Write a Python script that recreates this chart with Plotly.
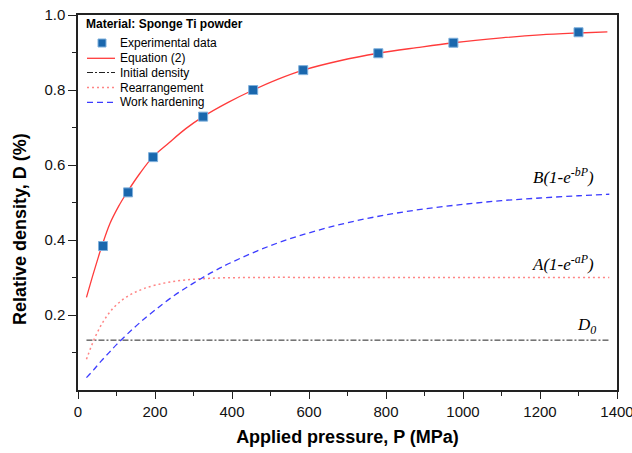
import plotly.graph_objects as go

# Measured compaction data for sponge Ti powder
pressure_exp = [65, 130, 195, 325, 455, 585, 780, 975, 1300]
density_exp = [0.384, 0.527, 0.621, 0.729, 0.800, 0.853, 0.898, 0.926, 0.954]

# Fitted total curve, Equation (2)
p_eq = [22, 40, 53, 62, 83, 105, 128, 161, 194, 235, 280, 325, 390, 455,
        520, 585, 680, 780, 880, 975, 1100, 1200, 1300, 1375]
d_eq = [0.247, 0.311, 0.355, 0.384, 0.444, 0.489, 0.528, 0.578, 0.621, 0.658,
        0.697, 0.729, 0.767, 0.800, 0.829, 0.853, 0.878, 0.898, 0.913, 0.926,
        0.939, 0.947, 0.952, 0.955]

# Initial density D0
p_d0 = [22, 1380]
d_d0 = [0.133, 0.133]

# Rearrangement term A(1-e^-aP)
p_rear = [22, 44, 66, 92, 126, 170, 239, 326, 450, 700, 1000, 1380]
d_rear = [0.082, 0.140, 0.183, 0.219, 0.248, 0.270, 0.288, 0.297, 0.300,
          0.300, 0.300, 0.300]

# Work hardening term B(1-e^-bP)
p_work = [22, 40, 60, 80, 100, 130, 160, 200, 250, 300, 350, 400, 500, 600,
          700, 800, 900, 1000, 1100, 1200, 1300, 1380]
d_work = [0.033, 0.053, 0.077, 0.099, 0.121, 0.151, 0.179, 0.213, 0.252,
          0.285, 0.315, 0.341, 0.385, 0.419, 0.446, 0.467, 0.483, 0.495,
          0.505, 0.512, 0.518, 0.522]

x_ticks = [0, 200, 400, 600, 800, 1000, 1200, 1400]
y_ticks = [0.2, 0.4, 0.6, 0.8, 1.0]
y_tick_text = ["0.2", "0.4", "0.6", "0.8", "1.0"]

legend_labels = ["Experimental data", "Equation (2)", "Initial density",
                 "Rearrangement", "Work hardening"]

RED = "#ff3b3b"
PINK = "#ff8585"
BLUE = "#3c3cff"
DARK = "#222222"
MARK = "#1a67ad"
SANS = "Arial, Liberation Sans, sans-serif"
SERIF = "Times New Roman, Liberation Serif, serif"

fig = go.Figure()

fig.add_trace(go.Scatter(x=p_d0, y=d_d0, mode="lines",
                         line=dict(color=DARK, width=1, dash="6px,2px,2px,2px"),
                         showlegend=False))
fig.add_trace(go.Scatter(x=p_rear, y=d_rear, mode="lines", line_shape="spline",
                         line=dict(color=PINK, width=1.5, dash="2px,3px"),
                         showlegend=False))
fig.add_trace(go.Scatter(x=p_work, y=d_work, mode="lines", line_shape="spline",
                         line=dict(color=BLUE, width=1.3, dash="6px,4px"),
                         showlegend=False))
fig.add_trace(go.Scatter(x=p_eq, y=d_eq, mode="lines", line_shape="spline",
                         line=dict(color=RED, width=1.3),
                         showlegend=False))
fig.add_trace(go.Scatter(x=pressure_exp, y=density_exp, mode="markers",
                         marker=dict(symbol="square", size=9, color=MARK,
                                     line=dict(color="#7fb0dc", width=1)),
                         showlegend=False))

# Plot area in pixels: left 78, right 617, top 15, bottom 390
def px_x(px):
    return (px - 78) / 539.0

def px_y(py):
    return (390 - py) / 375.0

annotations = []
shapes = []

# Legend block
annotations.append(dict(text="<b>Material: Sponge Ti powder</b>", x=px_x(84), y=px_y(24),
                        xref="paper", yref="paper", xanchor="left", yanchor="middle",
                        showarrow=False, font=dict(family=SANS, size=12, color="black")))
rows_y = [43, 58.3, 72.5, 87.5, 102.3]
for label, ry in zip(legend_labels, rows_y):
    annotations.append(dict(text=label, x=px_x(118), y=px_y(ry), xref="paper", yref="paper",
                            xanchor="left", yanchor="middle", showarrow=False,
                            font=dict(family=SANS, size=12, color="black")))
sample_styles = [
    None,
    dict(color=RED, width=1.3),
    dict(color=DARK, width=1, dash="6px,2px,2px,2px"),
    dict(color=PINK, width=1.5, dash="2px,3px"),
    dict(color=BLUE, width=1.3, dash="6px,4px"),
]
for style, ry in zip(sample_styles, rows_y):
    if style is None:
        shapes.append(dict(type="rect", xref="paper", yref="paper",
                           x0=px_x(98), x1=px_x(106), y0=px_y(47), y1=px_y(39),
                           fillcolor=MARK, line=dict(color="#7fb0dc", width=1)))
    else:
        shapes.append(dict(type="line", xref="paper", yref="paper",
                           x0=px_x(87), x1=px_x(115), y0=px_y(ry), y1=px_y(ry),
                           line=style))

# Term labels on the right
term_font = dict(family=SERIF, size=17, color="black")
annotations.append(dict(text="<i>B(1-e<sup>-bP</sup>)</i>", x=px_x(563), y=px_y(176),
                        xref="paper", yref="paper", xanchor="center", yanchor="middle",
                        showarrow=False, font=term_font))
annotations.append(dict(text="<i>A(1-e<sup>-aP</sup>)</i>", x=px_x(563), y=px_y(263),
                        xref="paper", yref="paper", xanchor="center", yanchor="middle",
                        showarrow=False, font=term_font))
annotations.append(dict(text="<i>D<sub>0</sub></i>", x=px_x(586), y=px_y(326),
                        xref="paper", yref="paper", xanchor="center", yanchor="middle",
                        showarrow=False, font=term_font))

# Y axis title
annotations.append(dict(text="<b>Relative density, D (%)</b>", x=px_x(20), y=px_y(229),
                        xref="paper", yref="paper", xanchor="center", yanchor="middle",
                        textangle=-90, showarrow=False,
                        font=dict(family=SANS, size=18, color="black")))

fig.update_layout(
    width=632, height=453,
    margin=dict(l=78, r=15, t=15, b=63, autoexpand=False),
    paper_bgcolor="white", plot_bgcolor="white",
    annotations=annotations, shapes=shapes,
    font=dict(family=SANS, color="black"),
)

fig.update_xaxes(
    range=[0, 1400], tickvals=x_ticks, ticks="outside", ticklen=7, tickwidth=1.2,
    tickcolor="#222", showline=True, linecolor="#222", linewidth=1.5, mirror=True,
    showgrid=False, zeroline=False, ticklabeloverflow="allow", automargin=False,
    tickfont=dict(family=SANS, size=15, color="#111"),
    minor=dict(tickvals=[100, 300, 500, 700, 900, 1100, 1300], ticks="outside",
               ticklen=4, tickcolor="#222", showgrid=False),
    title=dict(text="<b>Applied pressure, P (MPa)</b>", standoff=12,
               font=dict(family=SANS, size=18, color="black")),
)
fig.update_yaxes(
    range=[0, 1.0], tickvals=y_ticks, ticktext=y_tick_text, ticks="outside", ticklen=8,
    tickwidth=1.2, tickcolor="#222", showline=True, linecolor="#222", linewidth=1.5,
    mirror=True, showgrid=False, zeroline=False, automargin=False,
    tickfont=dict(family=SANS, size=15, color="#111"),
    minor=dict(tickvals=[0.1, 0.3, 0.5, 0.7, 0.9], ticks="outside", ticklen=4,
               tickcolor="#222", showgrid=False),
)

fig.write_html("out.html")
